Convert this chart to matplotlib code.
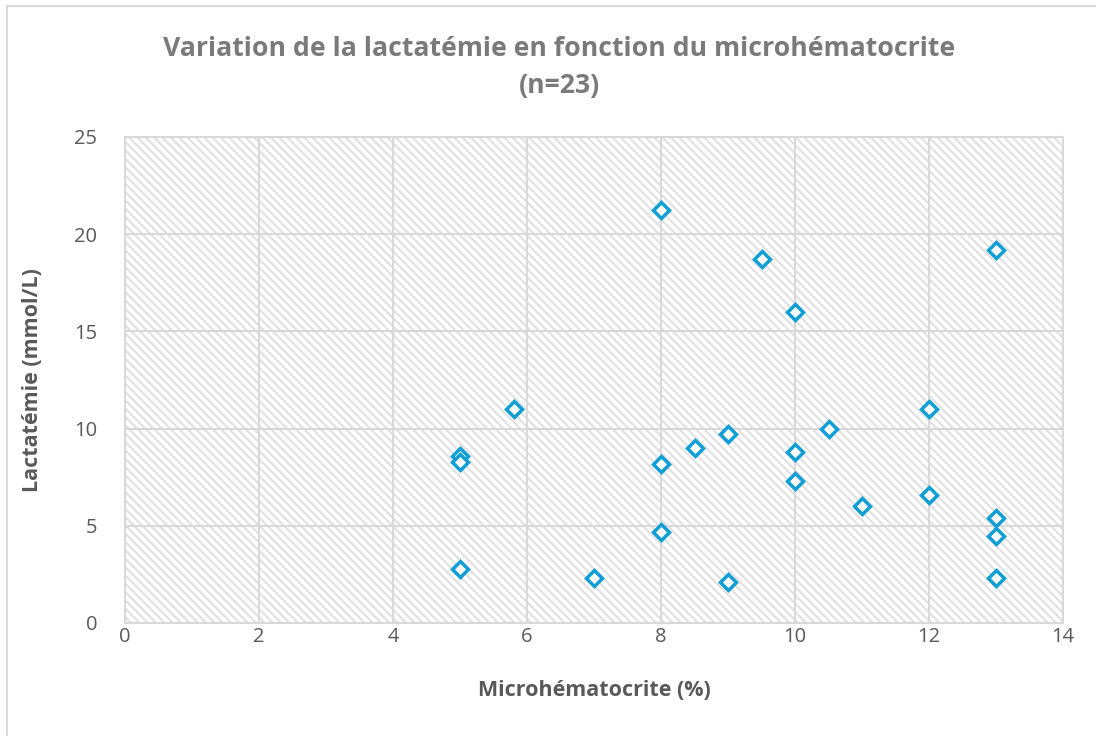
import matplotlib
matplotlib.use("Agg")
import matplotlib.pyplot as plt
from matplotlib.patches import Rectangle
from matplotlib.lines import Line2D

# Data
microhematocrite = [8, 9.5, 13, 10, 5.8, 12, 10.5, 8.5, 9, 5, 5, 8, 10, 10, 11, 12, 13, 13, 8, 5, 7, 9, 13]
lactatemie = [21.25, 18.7, 19.2, 16.0, 11.0, 11.0, 10.0, 9.0, 9.7, 8.6, 8.3, 8.2, 8.8, 7.3, 6.0, 6.6, 5.4, 4.5, 4.7, 2.8, 2.3, 2.1, 2.3]
x_ticks = [0, 2, 4, 6, 8, 10, 12, 14]
y_ticks = [0, 5, 10, 15, 20, 25]

title = "Variation de la lactatémie en fonction du microhématocrite\n(n=23)"
xlabel = "Microhématocrite (%)"
ylabel = "Lactatémie (mmol/L)"

plt.rcParams['font.family'] = ['Open Sans', 'DejaVu Sans']
plt.rcParams['hatch.linewidth'] = 1.6

W, H = 1096, 736
fig = plt.figure(figsize=(W / 100, H / 100), dpi=100)
fig.patch.set_facecolor('white')

# outer chart border (top and left visible)
border_col = '#d9d9d9'
fig.add_artist(Line2D([7 / W, 1.0], [1 - 6 / H, 1 - 6 / H], transform=fig.transFigure, color=border_col, lw=1.5))
fig.add_artist(Line2D([7 / W, 7 / W], [1 - 6 / H, 0.0], transform=fig.transFigure, color=border_col, lw=1.5))

left, right, top, bottom = 125 / W, 1063 / W, 1 - 137 / H, 1 - 623 / H
ax = fig.add_axes([left, bottom, right - left, top - bottom])

# hatched background
bg = Rectangle((0, 0), 1, 1, transform=ax.transAxes, facecolor='white',
               edgecolor='#e2e2e2', hatch='\\\\\\\\', lw=0, zorder=0)
ax.add_patch(bg)

ax.set_xlim(0, 14)
ax.set_ylim(0, 25)
ax.set_xticks(x_ticks)
ax.set_yticks(y_ticks)
ax.grid(True, color='#d9d9d9', lw=1.5, zorder=1)
ax.set_axisbelow(True)
for s in ax.spines.values():
    s.set_color('#d9d9d9')
    s.set_linewidth(1.5)
ax.tick_params(length=0, labelsize=14.5, labelcolor='#595959')
ax.tick_params(axis='x', pad=3)
ax.tick_params(axis='y', pad=20)

ax.plot(microhematocrite, lactatemie, linestyle='none', marker='D', markersize=8.5,
        markerfacecolor='white', markeredgecolor='#0F9ED5', markeredgewidth=2.5, zorder=3, clip_on=False)

ax.set_xlabel(xlabel, fontsize=15.5, fontweight='bold', color='#595959', va='center')
ax.set_ylabel(ylabel, fontsize=15.5, fontweight='bold', color='#595959', va='center')
ax.xaxis.set_label_coords(0.5, (623 - 691) / 486)
ax.yaxis.set_label_coords((33 - 125) / 938, 0.5)

fig.text(559 / W, 1 - 68 / H, title, ha='center', va='center', fontsize=19.2,
         fontweight='bold', color='#7a7a7a', linespacing=1.55)

fig.savefig('out.png', dpi=100, facecolor='white')
